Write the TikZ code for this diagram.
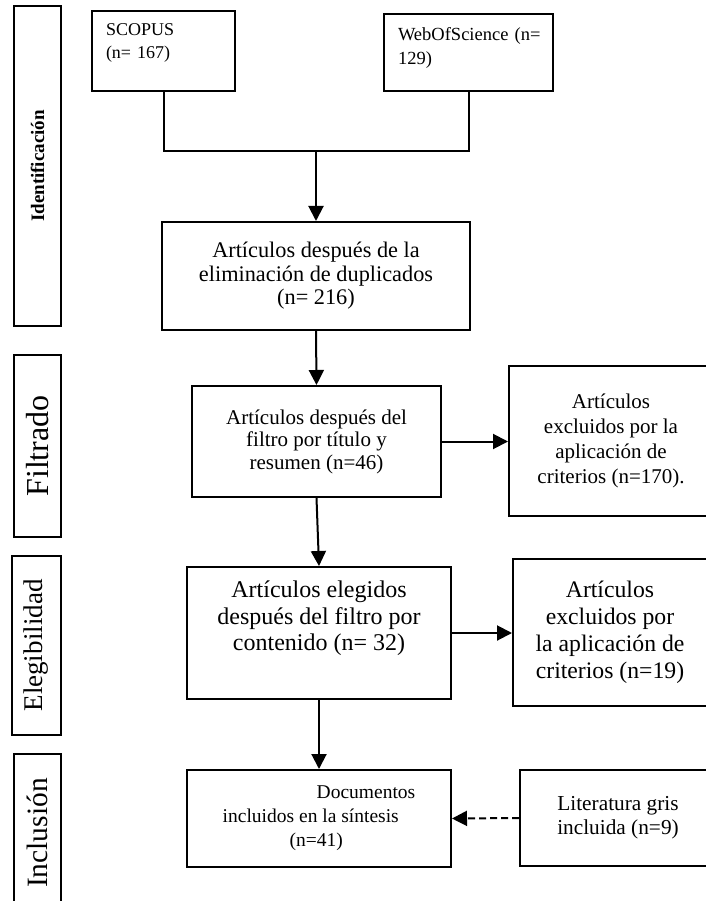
\documentclass[tikz,border=0pt]{standalone}
\usepackage{fontspec}
\setmainfont{Liberation Serif}
\usetikzlibrary{arrows.meta,positioning}
\newcommand{\fs}[2]{\fontsize{#1}{#2}\selectfont}

\begin{document}
\begin{tikzpicture}[
    x=1pt,y=-1pt,
    box/.style={rectangle,draw=black,line width=2pt,align=center,inner sep=2pt},
    srcbox/.style={rectangle,draw=black,line width=2pt,align=left,anchor=north west,
      inner xsep=14pt,inner ysep=13pt,font=\fs{18}{23}},
    phase/.style={rectangle,draw=black,line width=2pt,rotate=90,inner sep=0pt},
    arrow/.style={-{Triangle[length=15pt,width=15pt]},line width=2pt},
    dasharrow/.style={arrow,dash pattern=on 7pt off 4pt}
  ]
    \useasboundingbox (0,0) rectangle (705,901);

    \node[phase,minimum width=320pt,minimum height=47pt,font=\fs{19}{21}\bfseries] (idlab) at (37.5,166) {Identificación};
    \node[phase,minimum width=182pt,minimum height=47pt,font=\fs{32}{34}] (filtlab) at (37.5,446) {Filtrado};
    \node[phase,minimum width=179pt,minimum height=49pt,font=\fs{27}{29}] (eliglab) at (36.5,645.5) {Elegibilidad};
    \node[phase,minimum width=158pt,minimum height=47pt,font=\fs{29.5}{31}] (incllab) at (37.5,833) {Inclusión};

    \node[srcbox,minimum width=143pt,minimum height=80pt,text width=115pt,text depth=42pt] (scopus) at (91,10) {SCOPUS\\(n= 167)};
    \node[srcbox,minimum width=169pt,minimum height=77pt,text width=141pt,text depth=38pt,font=\fs{18.5}{24}] (wos) at (383,13)
      {\mbox{WebOfScience (n=}\\129)};
    \coordinate (join) at (316,151);

    \node[box,minimum width=308pt,minimum height=108pt,font=\fs{22.3}{23.5}] (dup) at (316,276)
      {Artículos después de la\\eliminación de duplicados\\(n= 216)};
    \node[box,minimum width=249pt,minimum height=111pt,font=\fs{21}{22.5}] (filt) at (316.5,441.5)
      {Artículos después del\\filtro por título y\\resumen (n=46)};
    \node[box,minimum width=204pt,minimum height=150pt,font=\fs{21}{25}] (excl1) at (611,441)
      {Artículos\\excluidos por la\\aplicación de\\criterios (n=170).};
    \node[box,minimum width=264pt,minimum height=132pt,font=\fs{24}{26.5}] (elig) at (319,633)
      {Artículos elegidos\\después del filtro por\\contenido (n= 32)\\\strut};
    \node[box,minimum width=194pt,minimum height=147pt,font=\fs{23.7}{27}] (excl2) at (610,632.5)
      {Artículos\\excluidos por\\la aplicación de\\criterios (n=19)};
    \node[box,minimum width=264pt,minimum height=97pt,font=\fs{19.5}{24},align=left] (incl) at (319,818.5)
      {\hspace*{94pt}Documentos\\incluidos en la síntesis\\\hspace*{67pt}(n=41)};
    \node[box,minimum width=196pt,minimum height=96pt,font=\fs{21.3}{24}] (gris) at (618,818)
      {Literatura gris\\incluida (n=9)};

    \draw[line width=2pt] (scopus.south) |- (join) -| (wos.south);
    \draw[arrow] (join) -- (dup.north);
    \draw[arrow] (dup.south) -- (filt.north);
    \draw[arrow] (filt.east) -- (filt.east -| excl1.west);
    \draw[arrow] (filt.south) -- (elig.north);
    \draw[arrow] (elig.east) -- (elig.east -| excl2.west);
    \draw[arrow] (elig.south) -- (incl.north);
    \draw[dasharrow] (gris.west) -- (incl.east);
  \end{tikzpicture}
\end{document}
